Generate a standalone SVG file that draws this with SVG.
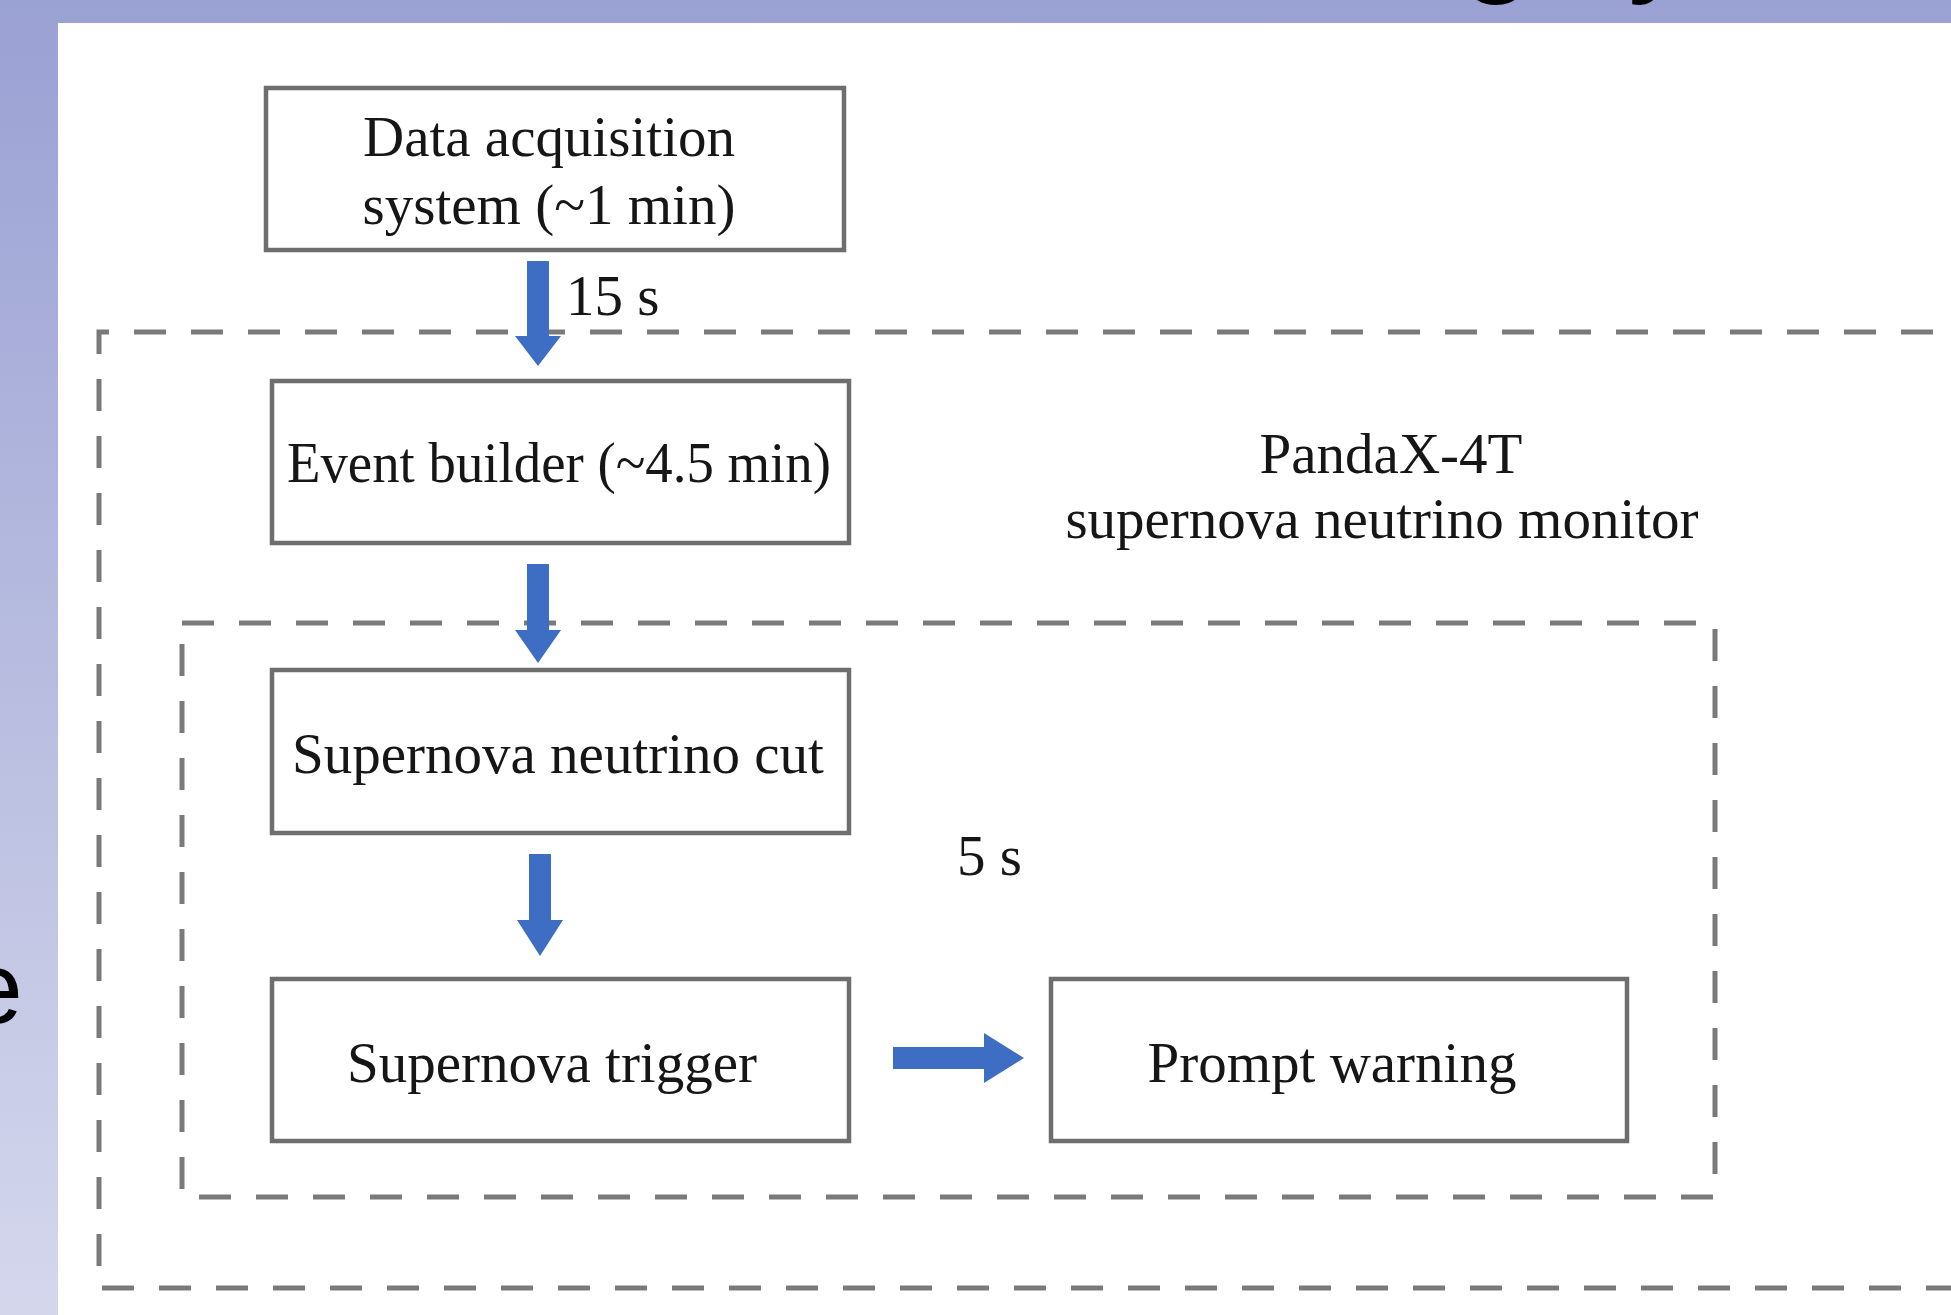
<svg xmlns="http://www.w3.org/2000/svg" width="1951" height="1315" viewBox="0 0 1951 1315">
  <style>
    .box { fill: #ffffff; stroke: #6e6e6e; stroke-width: 4.5; }
    .lbl { font-family: "Liberation Serif", "Times New Roman", serif; font-size: 57px; fill: #161616; }
    .mid { text-anchor: middle; }
    .dash { fill: none; stroke: #7a7a7a; stroke-width: 5; stroke-dasharray: 32 25; }
    .arrow { fill: #3d6ec4; }
    .title { font-family: "Liberation Sans", Arial, sans-serif; fill: #000000; }
  </style>
  <defs>
    <linearGradient id="bg" x1="0" y1="0" x2="0" y2="1">
      <stop offset="0" stop-color="#9aa1d3"/>
      <stop offset="1" stop-color="#d4d7ec"/>
    </linearGradient>
  </defs>

  <!-- slide background -->
  <rect x="0" y="0" width="1951" height="1315" fill="url(#bg)"/>
  <text class="title" x="1461" y="-22" font-size="130">g</text>
  <text class="title" x="1628" y="-22" font-size="130">y</text>
  <text class="title" x="-34" y="1023" font-size="102">e</text>
  <rect x="58" y="23" width="1893" height="1292" fill="#ffffff"/>

  <!-- dashed groupings -->
  <g id="outer-frame">
    <path class="dash" d="M1990 332 H99 V1288 H1990"/>
  </g>
  <g id="inner-frame">
    <rect class="dash" x="182" y="623" width="1533" height="574"/>
  </g>

  <!-- nodes -->
  <g id="node-daq">
    <rect class="box" x="266" y="88" width="578" height="162"/>
    <text class="lbl mid" x="549" y="156">Data acquisition</text>
    <text class="lbl mid" x="549" y="224">system (~1 min)</text>
  </g>
  <g id="node-event-builder">
    <rect class="box" x="272" y="381" width="577" height="162"/>
    <text class="lbl mid" x="559" y="482" textLength="544" lengthAdjust="spacingAndGlyphs">Event builder (~4.5 min)</text>
  </g>
  <g id="node-sn-cut">
    <rect class="box" x="272" y="670" width="577" height="163"/>
    <text class="lbl mid" x="558" y="773">Supernova neutrino cut</text>
  </g>
  <g id="node-sn-trigger">
    <rect class="box" x="272" y="979" width="577" height="162"/>
    <text class="lbl mid" x="552" y="1082">Supernova trigger</text>
  </g>
  <g id="node-prompt-warning">
    <rect class="box" x="1051" y="979" width="576" height="162"/>
    <text class="lbl mid" x="1332" y="1082">Prompt warning</text>
  </g>

  <!-- free labels -->
  <g id="labels">
    <text class="lbl" x="566" y="315" font-size="60">15 s</text>
    <text class="lbl" x="957" y="875" font-size="60">5 s</text>
    <text class="lbl mid" x="1391" y="473">PandaX-4T</text>
    <text class="lbl mid" x="1382" y="538">supernova neutrino monitor</text>
  </g>

  <!-- connectors -->
  <g id="connectors">
    <polygon class="arrow" points="527,261 549,261 549,336 561,336 538,366 515,336 527,336"/>
    <polygon class="arrow" points="527,564 549,564 549,630 561,630 538,663 515,630 527,630"/>
    <polygon class="arrow" points="529,854 551,854 551,920 563,920 540,956 517,920 529,920"/>
    <polygon class="arrow" points="893,1047 984,1047 984,1033 1024,1058 984,1083 984,1069 893,1069"/>
  </g>
</svg>
